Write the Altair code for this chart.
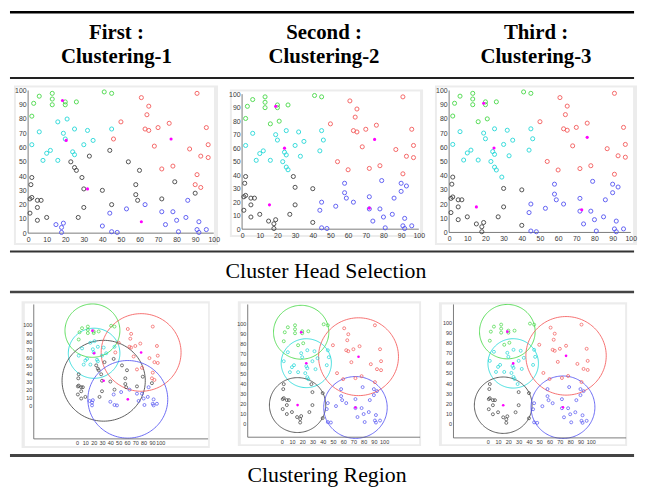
import numpy as np
import pandas as pd
import altair as alt

# ---------------- data ----------------
node_x = [6, 3, 2, 13, 13, 13, 20, 20, 26, 41, 45,
          2, 6, 8, 10, 12, 16, 16, 19, 20, 21, 25, 24, 25, 30, 32, 35, 45,
          23, 25, 26, 33, 29, 30, 30, 27, 40, 44, 54, 60, 58, 58, 59, 45, 72, 79, 90,
          2, 1.5, 2, 1, 1, 5, 5, 7, 5, 10,
          15, 18, 18, 19, 40, 44, 45, 48, 53, 63, 72, 74, 78, 80, 81, 85, 86, 91, 92, 92, 96,
          50, 46, 61, 65, 64, 63, 65, 70, 68, 76, 72, 78, 87, 91, 96, 97, 93, 97, 91, 90, 93]
node_y = [96, 91, 82, 98, 94, 90, 92, 90, 92, 99, 98,
          62, 71, 51, 56, 58, 78, 51, 70, 66, 80, 73, 57, 55, 62, 72, 65, 73,
          50, 46, 44, 54, 39, 31, 18, 11, 30, 58, 50, 44, 34, 27, 23, 20, 24, 36, 28,
          39, 34, 25, 24, 14, 18, 23, 23, 9, 11,
          6, 4, 0.5, 7, 5, 14, 1, 0.5, 17, 20, 15, 6, 15, 9, 1, 11, 23, 2.5, 0.5, 8, 2.5,
          78, 66, 95, 89, 83, 73, 72, 74, 61, 77, 45, 47, 59, 98, 74, 62, 54, 53, 41, 34, 32]

cluster_1 = list("GGGGGGGGGGG" "CCCCCCCCCCCCCCCCC" "KKKKKKKKKKKKKKKKKKKKKKKKKKKKK"
                 "BBBBBBBBBBBBBBBBBBBBB" "RRRRRRRRRRRRRRRRRRRRR")
cluster_2 = list("GGGGGGGGGGG" "CCCCCGCCCGCCCCCCC" "CCCCKKKKKCRRBBBBBBBKKKKKKKKKK"
                 "KKKKKBBBBBBBBBBBBBBBB" "RCRRRRRRRRRRRRRRRRRBB")
cluster_3 = list("GGGGGGGGGGG" "CCCCCGCCCGCCCCCCC" "CCCCCKKKKCRRBBBBBBBKKKKKKKKKK"
                 "KKKKKBBBBBBBBBBBBBBBB" "RCRRRRRRRRRRRRRRRRRBB")

cluster_ids = ["G", "C", "K", "R", "B"]
head_x_1 = [18.5, 20.5, 32, 77, 61]
head_y_1 = [93, 65, 31, 66, 8]
head_x_2 = [19, 24, 15.5, 75, 72]
head_y_2 = [91, 60, 18, 66.5, 15.6]
head_x_3 = [19, 24.7, 15, 76, 73]
head_y_3 = [91, 59.5, 18, 67, 16]
radius_1 = [33, 31, 50, 48, 48]
radius_2 = [27, 24.5, 27.5, 39, 31]
radius_3 = [27, 24.5, 28, 39, 31]

tick_values = [0, 10, 20, 30, 40, 50, 60, 70, 80, 90, 100]
header_line1 = ["First :", "Second :", "Third :"]
header_line2 = ["Clustering-1", "Clustering-2", "Clustering-3"]
row_labels = ["Cluster Head Selection", "Clustering Region"]

clusters = [cluster_1, cluster_2, cluster_3]
heads = [(head_x_1, head_y_1), (head_x_2, head_y_2), (head_x_3, head_y_3)]
radii = [radius_1, radius_2, radius_3]
assert len(node_x) == len(node_y) == len(cluster_1) == len(cluster_2) == len(cluster_3)

# ---------------- styling / layout ----------------
color_scale = alt.Scale(domain=cluster_ids,
                        range=["#45d845", "#22d8d8", "#404040", "#f45858", "#5252f2"])
MAGENTA = "#ff00ff"
SERIF = "Liberation Serif"
SANS = "Liberation Sans"

COL_X = [(8, 226), (226, 435), (435, 647)]
ROW_Y = {1: (82, 248), 2: (296, 455)}
HEAD_Y = (8, 82)
MID_Y = (248, 296)
BOT_Y = (455, 487)
TOTAL_W = 639

# per panel geometry in page pixels: data-0 position and px per unit, axes box, frame, white area
GEOM = {
    1: [dict(px0=28.3, kx=1.874, py0=233.0, ky=1.44, box=(28.3, 215.7, 89.0, 233.0),
             frame=(14, 84, 220, 245), white=(16, 86, 216, 243)),
        dict(px0=244.3, kx=1.784, py0=229.0, ky=1.363, box=(244.3, 422.7, 92.7, 229.0),
             frame=(232, 88, 427, 237), white=(234, 90, 424, 235)),
        dict(px0=453.3, kx=1.834, py0=232.3, ky=1.433, box=(453.3, 636.7, 89.0, 232.3),
             frame=(439, 84, 643, 245), white=(441, 86, 639, 243))],
    2: [dict(px0=77.7, kx=0.84, py0=407.3, ky=0.816, box=(34, 210, 305, 440.7),
             frame=(21.7, 301.7, 211.7, 450), white=(25, 304, 210, 448)),
        dict(px0=284.3, kx=1.034, py0=424.7, ky=1.007, box=(250, 424, 305, 439),
             frame=(240, 301.7, 425, 448), white=(243, 304, 423, 446)),
        dict(px0=492.3, kx=1.04, py0=425.0, ky=1.017, box=(457.7, 632, 305, 439.7),
             frame=(443, 302.7, 633, 448), white=(446, 305, 631, 446))],
}
STYLE = {1: dict(fs=7, pad=2, size=17, sw=1.0, hsize=10),
         2: dict(fs=5.5, pad=2, size=9, sw=0.8, hsize=7)}

one = pd.DataFrame({"z": [0]})


def panel(row, i):
    cx0, cx1 = COL_X[i]
    cy0, cy1 = ROW_Y[row]
    W, H = cx1 - cx0, cy1 - cy0
    g = GEOM[row][i]
    st = STYLE[row]
    px0, kx, py0, ky = g["px0"], g["kx"], g["py0"], g["ky"]
    bl, br, bt, bb = g["box"]

    def dx(p):
        return (p - px0) / kx

    def dy(p):
        return (py0 - p) / ky

    xs = alt.Scale(domain=[dx(cx0), dx(cx1)], nice=False, zero=False)
    ys = alt.Scale(domain=[dy(cy1), dy(cy0)], nice=False, zero=False)
    common = dict(values=tick_values, domain=False, ticks=False, grid=False,
                  labelFontSize=st["fs"], labelFont=SANS, labelColor="#3a3a3a",
                  labelPadding=st["pad"], labelOverlap=False, labelFlush=False,
                  labelBound=False, title=None, zindex=2)
    xax = alt.Axis(orient="bottom", offset=-(cy1 - bb), **common)
    yax = alt.Axis(orient="left", offset=-(bl - cx0), **common)

    def X(f):
        return alt.X(f, type="quantitative", scale=xs, axis=xax)

    def Y(f):
        return alt.Y(f, type="quantitative", scale=ys, axis=yax)

    fx0, fy0, fx1, fy1 = g["frame"]
    wx0, wy0, wx1, wy1 = g["white"]
    frame = alt.Chart(one).mark_rect(color="#ececec").encode(
        x=alt.value(fx0 - cx0), x2=alt.value(fx1 - cx0),
        y=alt.value(fy0 - cy0), y2=alt.value(fy1 - cy0))
    white = alt.Chart(one).mark_rect(color="#ffffff").encode(
        x=alt.value(wx0 - cx0), x2=alt.value(wx1 - cx0),
        y=alt.value(wy0 - cy0), y2=alt.value(wy1 - cy0))

    axes_df = pd.DataFrame({"x": [dx(bl), dx(bl)], "x2": [dx(br), dx(bl)],
                            "y": [dy(bb), dy(bb)], "y2": [dy(bb), dy(bt)]})
    axlines = alt.Chart(axes_df).mark_rule(color="#5a5a5a", strokeWidth=0.8).encode(
        x=X("x"), x2="x2", y=Y("y"), y2="y2")

    pts = pd.DataFrame({"x": node_x, "y": node_y, "cl": clusters[i]})
    points = alt.Chart(pts).mark_point(shape="circle", filled=False, size=st["size"],
                                       strokeWidth=st["sw"], opacity=0.9).encode(
        x=X("x"), y=Y("y"), color=alt.Color("cl:N", scale=color_scale, legend=None))

    hx, hy = heads[i]
    hd = pd.DataFrame({"x": hx, "y": hy})
    headpts = alt.Chart(hd).mark_point(shape="circle", filled=True, size=st["hsize"],
                                       color=MAGENTA, opacity=1).encode(x=X("x"), y=Y("y"))

    layers = [frame, white]
    if row == 2:
        ang = np.linspace(0, 2 * np.pi, 145)
        recs = []
        for cl, cxv, cyv, r in zip(cluster_ids, hx, hy, radii[i]):
            for k, a in enumerate(ang):
                recs.append({"cl": cl, "k": k, "x": cxv + r * np.cos(a), "y": cyv + r * np.sin(a)})
        circ = alt.Chart(pd.DataFrame(recs)).mark_line(strokeWidth=1.0, opacity=0.85).encode(
            x=X("x"), y=Y("y"), color=alt.Color("cl:N", scale=color_scale, legend=None),
            detail="cl:N", order="k:Q")
        layers.append(circ)
    layers += [axlines, points, headpts]
    return alt.layer(*layers).properties(width=W, height=H)


def deco(y0, y1, rules, texts):
    layers = []
    for py, w, c in rules:
        layers.append(alt.Chart(one).mark_rule(color=c, strokeWidth=w).encode(
            x=alt.value(10 - 8), x2=alt.value(640 - 8), y=alt.value(py - y0)))
    for t, px, py, fs, bold in texts:
        layers.append(alt.Chart(pd.DataFrame({"t": [t]})).mark_text(
            font=SERIF, fontSize=fs, fontWeight="bold" if bold else "normal",
            align="center", baseline="alphabetic", color="#000000").encode(
            x=alt.value(px - 8), y=alt.value(py - y0), text="t:N"))
    return alt.layer(*layers).properties(width=TOTAL_W, height=y1 - y0)


head_centers = [117.5, 327, 541]
header = deco(HEAD_Y[0], HEAD_Y[1],
              [(10, 2.5, "#000000"), (76.5, 2, "#222222")],
              [(header_line1[k], head_centers[k], 37, 21, True) for k in range(3)] +
              [(header_line2[k], head_centers[k], 61, 21, True) for k in range(3)])
mid = deco(MID_Y[0], MID_Y[1],
           [(251.5, 2, "#333333"), (292.5, 2.5, "#444444")],
           [(row_labels[0], 329, 278, 22, False)])
bottom = deco(BOT_Y[0], BOT_Y[1],
              [(457.5, 3, "#444444")],
              [(row_labels[1], 330, 484, 22, False)])

row1 = alt.hconcat(*[panel(1, i) for i in range(3)], spacing=0)
row2 = alt.hconcat(*[panel(2, i) for i in range(3)], spacing=0)

chart = alt.vconcat(header, row1, mid, row2, bottom, spacing=0).properties(
    padding=0, background="white").configure_view(stroke=None)

chart.save("out.html", embed_options={"renderer": "svg", "actions": False})
